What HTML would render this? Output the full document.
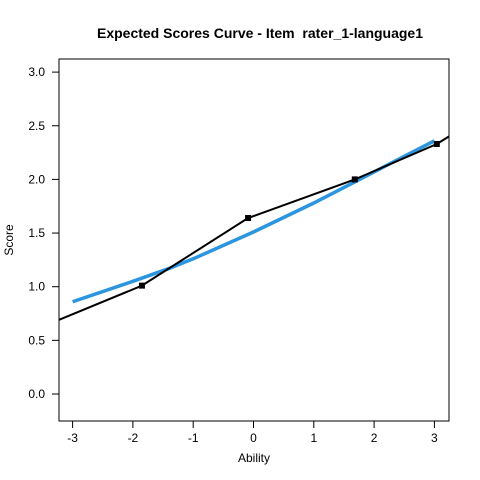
<!DOCTYPE html>
<html><head><meta charset="utf-8"><style>body{margin:0;background:#fff}svg{display:block}text{font-family:"Liberation Sans",Arial,sans-serif}</style></head>
<body>
<svg id="chart" width="480" height="480">
<text x="260" y="38" text-anchor="middle" font-size="14" font-weight="bold" xml:space="preserve">Expected Scores Curve - Item  rater_1-language1</text>
<text x="254" y="462" text-anchor="middle" font-size="12">Ability</text>
<text transform="translate(13,240) rotate(-90)" text-anchor="middle" font-size="12">Score</text>
<defs><clipPath id="pc"><rect x="59" y="59" width="390" height="362"/></clipPath></defs>
<g id="axes"></g>
<g id="series" clip-path="url(#pc)"></g>
<rect x="59" y="59" width="390" height="362" fill="none" stroke="#000"/>
</svg>
<script>
const xTicks=[-3,-2,-1,0,1,2,3];
const yTicks=[0,0.5,1,1.5,2,2.5,3];
const yTickLabels=["0.0","0.5","1.0","1.5","2.0","2.5","3.0"];
const modelX=[-3,-2,-1.4,-1,0,1,2,3];
const modelY=[0.86,1.05,1.17,1.26,1.51,1.78,2.07,2.36];
const obsX=[-1.85,-0.09,1.68,3.04];
const obsY=[1.01,1.64,2.00,2.33];
const extX=[-3.23,3.24];
const extY=[0.69,2.40];
const NS="http://www.w3.org/2000/svg";
const sx=v=>253.5+v*60.3, sy=v=>394-v*107.3;
const ax=document.getElementById('axes'), se=document.getElementById('series');
function mk(t,a,p){const e=document.createElementNS(NS,t);for(const k in a)e.setAttribute(k,a[k]);p.appendChild(e);return e;}
xTicks.forEach(v=>{
  const l=mk('line',{x1:sx(v),x2:sx(v),y1:421,y2:428,stroke:'#000'},ax);
  
  
  const t=mk('text',{x:sx(v),y:442,'text-anchor':'middle','font-size':12},ax);t.textContent=v;
  
  
});
yTicks.forEach((v,i)=>{
  const l=mk('line',{x1:52,x2:59,y1:sy(v),y2:sy(v),stroke:'#000'},ax);
  
  
  const t=mk('text',{x:45,y:sy(v)+4,'text-anchor':'end','font-size':12},ax);t.textContent=yTickLabels[i];
  
  
});
const mp=modelX.map((x,i)=>sx(x)+','+sy(modelY[i])).join(' ');
const m=mk('polyline',{points:mp,fill:'none',stroke:'#2b95e0','stroke-width':3.5},se);


const pts=[[extX[0],extY[0]]].concat(obsX.map((x,i)=>[x,obsY[i]])).concat([[extX[1],extY[1]]]);
const o=mk('polyline',{points:pts.map(p=>sx(p[0])+','+sy(p[1])).join(' '),fill:'none',stroke:'#000','stroke-width':2},se);


obsX.forEach((x,i)=>{
  const r=mk('rect',{x:sx(x)-3,y:sy(obsY[i])-3,width:6,height:6,fill:'#000'},se);
  
  
});
</script>
</body></html>
